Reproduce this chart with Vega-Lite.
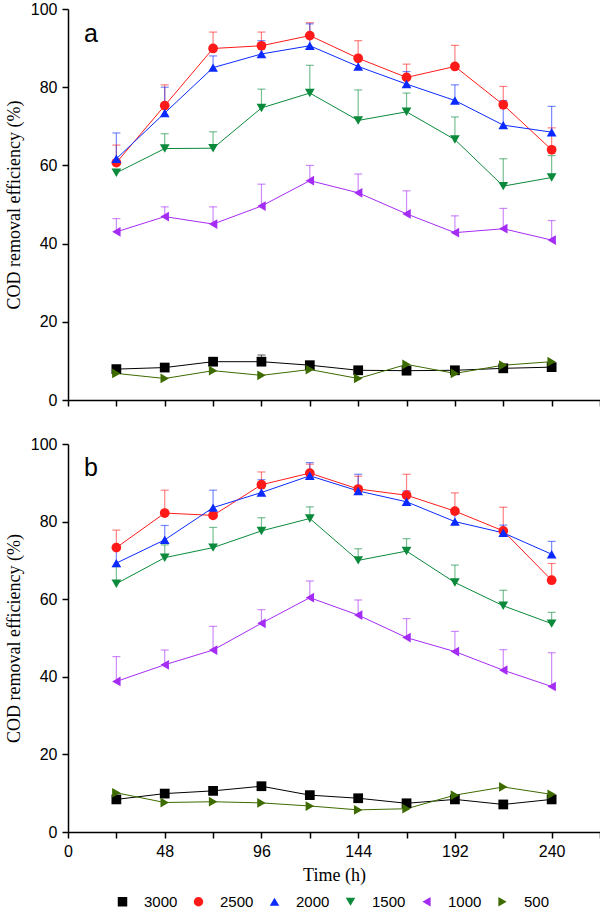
{
  "$schema": "https://vega.github.io/schema/vega-lite/v6.json",
  "background": "white",
  "padding": {"left": 5, "top": 1, "right": 0, "bottom": 0},
  "spacing": 28,
  "config": {
    "view": {"stroke": null},
    "axis": {
      "grid": false,
      "domainColor": "#000000",
      "domainWidth": 1.5,
      "tickColor": "#000000",
      "tickWidth": 1.5,
      "tickSize": 6,
      "labelColor": "#000000",
      "labelFont": "Liberation Sans",
      "labelFontSize": 16,
      "labelPadding": 5,
      "labelFlush": false,
      "labelOverlap": false,
      "titleFont": "Liberation Serif",
      "titleFontSize": 18,
      "titleFontWeight": "normal",
      "titleColor": "#000000"
    },
    "legend": {
      "title": null,
      "orient": "none",
      "legendX": 47,
      "legendY": 885,
      "direction": "horizontal",
      "symbolSize": 90,
      "symbolOpacity": 1,
      "symbolStrokeWidth": 0,
      "labelFont": "Liberation Sans",
      "labelFontSize": 15,
      "labelColor": "#000000",
      "labelOffset": 14,
      "columnPadding": 13
    }
  },
  "data": {
    "values": [
      {"p": "a", "t": 24, "c": "3000", "v": 7.9, "h": null},
      {"p": "a", "t": 48, "c": "3000", "v": 8.3, "h": null},
      {"p": "a", "t": 72, "c": "3000", "v": 9.8, "h": null},
      {"p": "a", "t": 96, "c": "3000", "v": 9.8, "h": 11.5},
      {"p": "a", "t": 120, "c": "3000", "v": 8.9, "h": null},
      {"p": "a", "t": 144, "c": "3000", "v": 7.6, "h": null},
      {"p": "a", "t": 168, "c": "3000", "v": 7.5, "h": null},
      {"p": "a", "t": 192, "c": "3000", "v": 7.6, "h": null},
      {"p": "a", "t": 216, "c": "3000", "v": 8.1, "h": null},
      {"p": "a", "t": 240, "c": "3000", "v": 8.4, "h": null},
      {"p": "a", "t": 24, "c": "2500", "v": 60.7, "h": 65.2},
      {"p": "a", "t": 48, "c": "2500", "v": 75.3, "h": 80.6},
      {"p": "a", "t": 72, "c": "2500", "v": 89.9, "h": 94.1},
      {"p": "a", "t": 96, "c": "2500", "v": 90.6, "h": 94.1},
      {"p": "a", "t": 120, "c": "2500", "v": 93.2, "h": 96.5},
      {"p": "a", "t": 144, "c": "2500", "v": 87.4, "h": 91.9},
      {"p": "a", "t": 168, "c": "2500", "v": 82.5, "h": 85.9},
      {"p": "a", "t": 192, "c": "2500", "v": 85.3, "h": 90.7},
      {"p": "a", "t": 216, "c": "2500", "v": 75.5, "h": 80.2},
      {"p": "a", "t": 240, "c": "2500", "v": 64.0, "h": 69.6},
      {"p": "a", "t": 24, "c": "2000", "v": 61.7, "h": 68.3},
      {"p": "a", "t": 48, "c": "2000", "v": 73.4, "h": 80.0},
      {"p": "a", "t": 72, "c": "2000", "v": 85.0, "h": 88.0},
      {"p": "a", "t": 96, "c": "2000", "v": 88.5, "h": 91.9},
      {"p": "a", "t": 120, "c": "2000", "v": 90.6, "h": 96.2},
      {"p": "a", "t": 144, "c": "2000", "v": 85.3, "h": 87.5},
      {"p": "a", "t": 168, "c": "2000", "v": 80.8, "h": 84.0},
      {"p": "a", "t": 192, "c": "2000", "v": 76.6, "h": 80.6},
      {"p": "a", "t": 216, "c": "2000", "v": 70.3, "h": 76.6},
      {"p": "a", "t": 240, "c": "2000", "v": 68.5, "h": 75.1},
      {"p": "a", "t": 24, "c": "1500", "v": 58.1, "h": null},
      {"p": "a", "t": 48, "c": "1500", "v": 64.3, "h": 68.1},
      {"p": "a", "t": 72, "c": "1500", "v": 64.4, "h": 68.6},
      {"p": "a", "t": 96, "c": "1500", "v": 74.7, "h": 79.5},
      {"p": "a", "t": 120, "c": "1500", "v": 78.5, "h": 85.6},
      {"p": "a", "t": 144, "c": "1500", "v": 71.5, "h": 79.3},
      {"p": "a", "t": 168, "c": "1500", "v": 73.7, "h": 78.5},
      {"p": "a", "t": 192, "c": "1500", "v": 66.6, "h": 72.4},
      {"p": "a", "t": 216, "c": "1500", "v": 54.7, "h": 61.7},
      {"p": "a", "t": 240, "c": "1500", "v": 56.9, "h": 62.5},
      {"p": "a", "t": 24, "c": "1000", "v": 43.0, "h": 46.4},
      {"p": "a", "t": 48, "c": "1000", "v": 46.9, "h": 49.4},
      {"p": "a", "t": 72, "c": "1000", "v": 45.0, "h": 49.4},
      {"p": "a", "t": 96, "c": "1000", "v": 49.6, "h": 55.2},
      {"p": "a", "t": 120, "c": "1000", "v": 56.1, "h": 60.0},
      {"p": "a", "t": 144, "c": "1000", "v": 53.0, "h": 57.8},
      {"p": "a", "t": 168, "c": "1000", "v": 47.6, "h": 53.5},
      {"p": "a", "t": 192, "c": "1000", "v": 42.8, "h": 47.1},
      {"p": "a", "t": 216, "c": "1000", "v": 43.8, "h": 49.0},
      {"p": "a", "t": 240, "c": "1000", "v": 40.9, "h": 45.9},
      {"p": "a", "t": 24, "c": "500", "v": 6.8, "h": null},
      {"p": "a", "t": 48, "c": "500", "v": 5.5, "h": null},
      {"p": "a", "t": 72, "c": "500", "v": 7.5, "h": null},
      {"p": "a", "t": 96, "c": "500", "v": 6.3, "h": null},
      {"p": "a", "t": 120, "c": "500", "v": 7.8, "h": null},
      {"p": "a", "t": 144, "c": "500", "v": 5.5, "h": null},
      {"p": "a", "t": 168, "c": "500", "v": 9.1, "h": null},
      {"p": "a", "t": 192, "c": "500", "v": 6.8, "h": null},
      {"p": "a", "t": 216, "c": "500", "v": 8.9, "h": null},
      {"p": "a", "t": 240, "c": "500", "v": 9.8, "h": null},
      {"p": "b", "t": 24, "c": "3000", "v": 8.4, "h": null},
      {"p": "b", "t": 48, "c": "3000", "v": 9.9, "h": null},
      {"p": "b", "t": 72, "c": "3000", "v": 10.6, "h": null},
      {"p": "b", "t": 96, "c": "3000", "v": 11.8, "h": 12.6},
      {"p": "b", "t": 120, "c": "3000", "v": 9.5, "h": null},
      {"p": "b", "t": 144, "c": "3000", "v": 8.7, "h": null},
      {"p": "b", "t": 168, "c": "3000", "v": 7.4, "h": null},
      {"p": "b", "t": 192, "c": "3000", "v": 8.4, "h": null},
      {"p": "b", "t": 216, "c": "3000", "v": 7.1, "h": null},
      {"p": "b", "t": 240, "c": "3000", "v": 8.4, "h": null},
      {"p": "b", "t": 24, "c": "2500", "v": 73.3, "h": 77.8},
      {"p": "b", "t": 48, "c": "2500", "v": 82.2, "h": 88.1},
      {"p": "b", "t": 72, "c": "2500", "v": 81.6, "h": null},
      {"p": "b", "t": 96, "c": "2500", "v": 89.5, "h": 92.8},
      {"p": "b", "t": 120, "c": "2500", "v": 92.5, "h": 94.8},
      {"p": "b", "t": 144, "c": "2500", "v": 88.4, "h": 91.7},
      {"p": "b", "t": 168, "c": "2500", "v": 86.8, "h": 92.2},
      {"p": "b", "t": 192, "c": "2500", "v": 82.7, "h": 87.4},
      {"p": "b", "t": 216, "c": "2500", "v": 77.6, "h": 83.7},
      {"p": "b", "t": 240, "c": "2500", "v": 64.9, "h": 69.2},
      {"p": "b", "t": 24, "c": "2000", "v": 69.3, "h": 73.0},
      {"p": "b", "t": 48, "c": "2000", "v": 75.3, "h": 79.0},
      {"p": "b", "t": 72, "c": "2000", "v": 83.6, "h": 88.1},
      {"p": "b", "t": 96, "c": "2000", "v": 87.5, "h": 90.8},
      {"p": "b", "t": 120, "c": "2000", "v": 91.8, "h": 95.2},
      {"p": "b", "t": 144, "c": "2000", "v": 87.9, "h": 92.2},
      {"p": "b", "t": 168, "c": "2000", "v": 85.1, "h": 87.9},
      {"p": "b", "t": 192, "c": "2000", "v": 80.0, "h": 82.0},
      {"p": "b", "t": 216, "c": "2000", "v": 77.1, "h": 79.1},
      {"p": "b", "t": 240, "c": "2000", "v": 71.6, "h": 74.9},
      {"p": "b", "t": 24, "c": "1500", "v": 64.0, "h": 68.4},
      {"p": "b", "t": 48, "c": "1500", "v": 70.7, "h": 74.0},
      {"p": "b", "t": 72, "c": "1500", "v": 73.3, "h": 78.5},
      {"p": "b", "t": 96, "c": "1500", "v": 77.6, "h": 81.0},
      {"p": "b", "t": 120, "c": "1500", "v": 80.8, "h": 83.8},
      {"p": "b", "t": 144, "c": "1500", "v": 70.0, "h": 73.0},
      {"p": "b", "t": 168, "c": "1500", "v": 72.4, "h": 75.6},
      {"p": "b", "t": 192, "c": "1500", "v": 64.3, "h": 68.8},
      {"p": "b", "t": 216, "c": "1500", "v": 58.3, "h": 62.3},
      {"p": "b", "t": 240, "c": "1500", "v": 53.7, "h": 56.6},
      {"p": "b", "t": 24, "c": "1000", "v": 38.8, "h": 45.2},
      {"p": "b", "t": 48, "c": "1000", "v": 43.1, "h": 46.9},
      {"p": "b", "t": 72, "c": "1000", "v": 46.9, "h": 53.0},
      {"p": "b", "t": 96, "c": "1000", "v": 53.8, "h": 57.3},
      {"p": "b", "t": 120, "c": "1000", "v": 60.4, "h": 64.7},
      {"p": "b", "t": 144, "c": "1000", "v": 55.9, "h": 59.8},
      {"p": "b", "t": 168, "c": "1000", "v": 50.1, "h": 55.0},
      {"p": "b", "t": 192, "c": "1000", "v": 46.5, "h": 51.7},
      {"p": "b", "t": 216, "c": "1000", "v": 41.7, "h": 47.0},
      {"p": "b", "t": 240, "c": "1000", "v": 37.5, "h": 46.2},
      {"p": "b", "t": 24, "c": "500", "v": 10.1, "h": null},
      {"p": "b", "t": 48, "c": "500", "v": 7.6, "h": null},
      {"p": "b", "t": 72, "c": "500", "v": 7.8, "h": null},
      {"p": "b", "t": 96, "c": "500", "v": 7.5, "h": null},
      {"p": "b", "t": 120, "c": "500", "v": 6.7, "h": null},
      {"p": "b", "t": 144, "c": "500", "v": 5.7, "h": null},
      {"p": "b", "t": 168, "c": "500", "v": 6.0, "h": null},
      {"p": "b", "t": 192, "c": "500", "v": 9.5, "h": null},
      {"p": "b", "t": 216, "c": "500", "v": 11.6, "h": null},
      {"p": "b", "t": 240, "c": "500", "v": 9.7, "h": null}
    ]
  },
  "vconcat": [
    {
      "width": 532,
      "height": 391,
      "layer": [
        {
          "transform": [{"filter": "datum.p == 'a' && datum.h != null"}],
          "mark": {"type": "rule", "opacity": 0.55, "strokeWidth": 1.2},
          "encoding": {
            "x": {"field": "t", "type": "quantitative", "scale": {"domain": [0, 264], "nice": false},
                  "axis": {"values": [0, 24, 48, 72, 96, 120, 144, 168, 192, 216, 240, 264], "labels": false, "title": null}},
            "y": {"field": "v", "type": "quantitative", "scale": {"domain": [0, 100], "nice": false},
                  "axis": {"values": [0, 5, 10, 15, 20, 25, 30, 35, 40, 45, 50, 55, 60, 65, 70, 75, 80, 85, 90, 95, 100],
                           "labelExpr": "datum.value % 20 == 0 ? datum.label : ''",
                           "title": "COD removal efficiency (%)", "titlePadding": 7}},
            "y2": {"field": "h"},
            "color": {"field": "c", "type": "nominal",
                      "scale": {"domain": ["3000", "2500", "2000", "1500", "1000", "500"],
                                "range": ["#000000", "#ff1a1a", "#0a2aff", "#0a8a3a", "#a52cf5", "#3d6b00"]}}
          }
        },
        {
          "transform": [{"filter": "datum.p == 'a' && datum.h != null"}],
          "mark": {"type": "tick", "orient": "horizontal", "size": 8, "thickness": 1.2, "opacity": 0.55},
          "encoding": {
            "x": {"field": "t", "type": "quantitative"},
            "y": {"field": "h", "type": "quantitative"},
            "color": {"field": "c", "type": "nominal"}
          }
        },
        {
          "transform": [{"filter": "datum.p == 'a'"}],
          "mark": {"type": "line", "strokeWidth": 1},
          "encoding": {
            "x": {"field": "t", "type": "quantitative"},
            "y": {"field": "v", "type": "quantitative"},
            "color": {"field": "c", "type": "nominal"}
          }
        },
        {
          "transform": [{"filter": "datum.p == 'a'"}],
          "mark": {"type": "point", "filled": true, "opacity": 1, "size": 95},
          "encoding": {
            "x": {"field": "t", "type": "quantitative"},
            "y": {"field": "v", "type": "quantitative"},
            "color": {"field": "c", "type": "nominal"},
            "shape": {"field": "c", "type": "nominal",
                      "scale": {"domain": ["3000", "2500", "2000", "1500", "1000", "500"],
                                "range": ["square", "circle", "triangle-up", "triangle-down", "triangle-left", "triangle-right"]}}
          }
        },
        {
          "data": {"values": [{"lab": "a"}]},
          "mark": {"type": "text", "font": "Liberation Sans", "fontSize": 25, "align": "left", "baseline": "alphabetic", "color": "#000000"},
          "encoding": {
            "x": {"datum": 8, "type": "quantitative"},
            "y": {"datum": 91.6, "type": "quantitative"},
            "text": {"field": "lab"}
          }
        }
      ]
    },
    {
      "width": 532,
      "height": 388,
      "layer": [
        {
          "transform": [{"filter": "datum.p == 'b' && datum.h != null"}],
          "mark": {"type": "rule", "opacity": 0.55, "strokeWidth": 1.2},
          "encoding": {
            "x": {"field": "t", "type": "quantitative", "scale": {"domain": [0, 264], "nice": false},
                  "axis": {"values": [0, 24, 48, 72, 96, 120, 144, 168, 192, 216, 240, 264],
                           "labelExpr": "datum.value % 48 == 0 && datum.value <= 240 ? datum.label : ''",
                           "title": "Time (h)", "titlePadding": 7}},
            "y": {"field": "v", "type": "quantitative", "scale": {"domain": [0, 100], "nice": false},
                  "axis": {"values": [0, 5, 10, 15, 20, 25, 30, 35, 40, 45, 50, 55, 60, 65, 70, 75, 80, 85, 90, 95, 100],
                           "labelExpr": "datum.value % 20 == 0 ? datum.label : ''",
                           "title": "COD removal efficiency (%)", "titlePadding": 7}},
            "y2": {"field": "h"},
            "color": {"field": "c", "type": "nominal"}
          }
        },
        {
          "transform": [{"filter": "datum.p == 'b' && datum.h != null"}],
          "mark": {"type": "tick", "orient": "horizontal", "size": 8, "thickness": 1.2, "opacity": 0.55},
          "encoding": {
            "x": {"field": "t", "type": "quantitative"},
            "y": {"field": "h", "type": "quantitative"},
            "color": {"field": "c", "type": "nominal"}
          }
        },
        {
          "transform": [{"filter": "datum.p == 'b'"}],
          "mark": {"type": "line", "strokeWidth": 1},
          "encoding": {
            "x": {"field": "t", "type": "quantitative"},
            "y": {"field": "v", "type": "quantitative"},
            "color": {"field": "c", "type": "nominal"}
          }
        },
        {
          "transform": [{"filter": "datum.p == 'b'"}],
          "mark": {"type": "point", "filled": true, "opacity": 1, "size": 95},
          "encoding": {
            "x": {"field": "t", "type": "quantitative"},
            "y": {"field": "v", "type": "quantitative"},
            "color": {"field": "c", "type": "nominal"},
            "shape": {"field": "c", "type": "nominal"}
          }
        },
        {
          "data": {"values": [{"lab": "b"}]},
          "mark": {"type": "text", "font": "Liberation Sans", "fontSize": 25, "align": "left", "baseline": "alphabetic", "color": "#000000"},
          "encoding": {
            "x": {"datum": 8, "type": "quantitative"},
            "y": {"datum": 91.7, "type": "quantitative"},
            "text": {"field": "lab"}
          }
        }
      ]
    }
  ]
}
